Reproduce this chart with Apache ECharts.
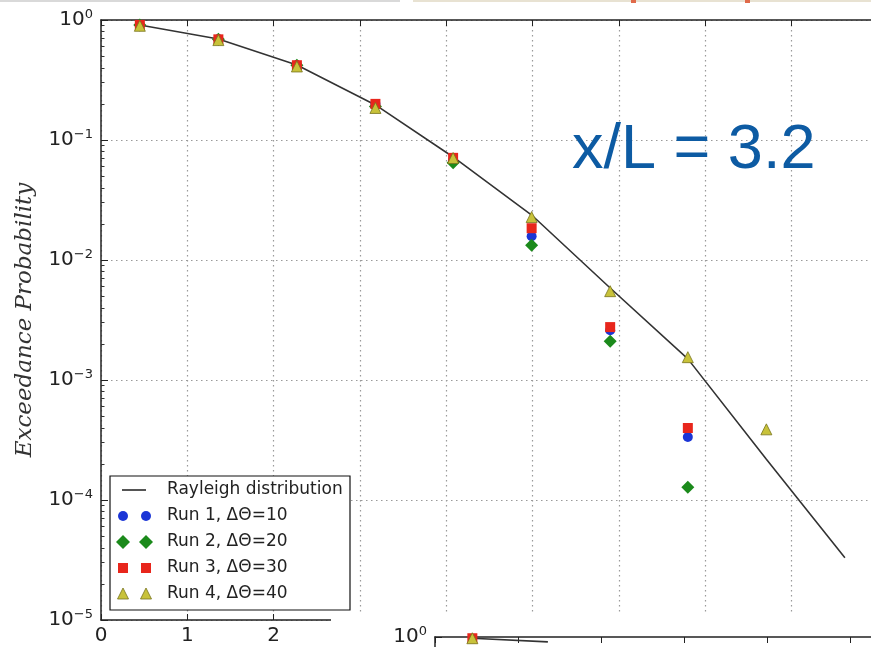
<!DOCTYPE html>
<html>
<head>
<meta charset="utf-8">
<script src="https://cdn.jsdelivr.net/npm/echarts@6/dist/echarts.min.js"></script>
<style>
html,body{margin:0;padding:0;overflow:hidden;background:#fff;width:871px;height:647px;}
#chart{width:1300px;height:647px;}
</style>
</head>
<body>
<div id="chart"></div>
<script>
// ---- data ----
const binCenters = [0.45, 1.36, 2.27, 3.18, 4.08, 4.99, 5.90, 6.80, 7.71];
const rayleighX = [0.45, 1.36, 2.27, 3.18, 4.08, 4.99, 5.90, 6.80, 7.71, 8.62];
const rayleighP = [0.909, 0.694, 0.422, 0.196, 0.0722, 0.0237, 0.00584, 0.00150, 0.000219, 0.000033];
const run1 = [0.91, 0.69, 0.42, 0.200, 0.068, 0.0158, 0.0026, 0.000335, null];
const run2 = [0.91, 0.69, 0.42, 0.190, 0.0645, 0.0133, 0.0021, 0.000128, null];
const run3 = [0.91, 0.69, 0.42, 0.200, 0.071, 0.0184, 0.00276, 0.000398, null];
const run4 = [0.895, 0.68, 0.41, 0.185, 0.0708, 0.0228, 0.0055, 0.00155, 0.000388];
const runNames = ['Run 1, \u0394\u0398=10', 'Run 2, \u0394\u0398=20', 'Run 3, \u0394\u0398=30', 'Run 4, \u0394\u0398=40'];
const curveName = 'Rayleigh distribution';
const xTicks = [0, 1, 2, 3, 4, 5, 6, 7, 8, 9, 10];
const yDecades = [-5, -4, -3, -2, -1, 0];
const annotation = 'x/L = 3.2';
const yTitle = 'Exceedance Probability';
// second (partially visible) panel below
const panel2X = [0.45, 1.36];
const panel2Curve = [0.91, 0.69];
const panel2Run = [0.91];

// minor log tick positions (2..9 x 10^d)
const minorTicks = [];
yDecades.slice(0, -1).forEach(d => { for (let k = 2; k <= 9; k++) minorTicks.push(k * Math.pow(10, d)); });

const colors = { run1: '#1b35d6', run2: '#1b8a1b', run3: '#e8261c', run4: '#c8c23a', curve: '#333333' };
const pairs = (xs, ys) => xs.map((x, i) => [x, ys[i]]).filter(p => p[1] != null);

const supLabel = v => '{b|10}{s|' + String(Math.round(Math.log10(v))).replace('-', '\u2212') + '}';
const labelRich = {
  b: { fontSize: 20, fontFamily: 'DejaVu Sans', color: '#222', lineHeight: 24 },
  s: { fontSize: 13, fontFamily: 'DejaVu Sans', color: '#222', verticalAlign: 'top', lineHeight: 14 }
};
const frame = { show: true, lineStyle: { color: '#222', width: 1.5 } };
const dotted = { show: true, lineStyle: { color: '#9a9a9a', type: [1.5, 3.5], width: 1.2 } };

const chart = echarts.init(document.getElementById('chart'), null, { renderer: 'canvas' });

// legend drawn as graphics
const legX = 110, legY = 476, rows = [490, 516, 542, 568, 594];
const legend = [
  { type: 'rect', z: 50, shape: { x: legX, y: legY, width: 240, height: 134 }, style: { fill: '#fff', stroke: '#111', lineWidth: 1.2 } },
  { type: 'line', z: 51, shape: { x1: 122, y1: rows[0], x2: 146, y2: rows[0] }, style: { stroke: '#555', lineWidth: 2 } }
];
[123, 146].forEach(cx => {
  legend.push({ type: 'circle', z: 51, shape: { cx: cx, cy: rows[1], r: 5 }, style: { fill: colors.run1 } });
  legend.push({ type: 'polygon', z: 51, shape: { points: [[cx, rows[2] - 7], [cx + 7, rows[2]], [cx, rows[2] + 7], [cx - 7, rows[2]]] }, style: { fill: colors.run2 } });
  legend.push({ type: 'rect', z: 51, shape: { x: cx - 5, y: rows[3] - 5, width: 10, height: 10 }, style: { fill: colors.run3 } });
  legend.push({ type: 'polygon', z: 51, shape: { points: [[cx, rows[4] - 6], [cx + 5.5, rows[4] + 5], [cx - 5.5, rows[4] + 5]] }, style: { fill: colors.run4, stroke: '#77731c', lineWidth: 0.8 } });
});
[curveName].concat(runNames).forEach((t, i) => {
  legend.push({ type: 'text', z: 52, style: { x: 167, y: rows[i], text: t, font: '17px "DejaVu Sans"', fill: '#222', verticalAlign: 'middle' } });
});

const option = {
  animation: false,
  backgroundColor: '#fff',
  grid: [
    { left: 101, top: 20, width: 863, height: 600, show: false },
    { left: 435, top: 637, width: 830, height: 600, show: false }
  ],
  xAxis: [
    { gridIndex: 0, type: 'value', position: 'bottom', min: xTicks[0], max: xTicks[xTicks.length - 1], interval: 1,
      axisLine: frame, axisTick: { show: true, inside: true, length: 6, lineStyle: { color: '#222' } },
      axisLabel: { fontSize: 20, fontFamily: 'DejaVu Sans', color: '#222', margin: 6 }, splitLine: dotted },
    { gridIndex: 0, type: 'value', position: 'top', min: xTicks[0], max: xTicks[xTicks.length - 1], interval: 1,
      axisLine: frame, axisTick: { show: true, inside: true, length: 6, lineStyle: { color: '#222' } },
      axisLabel: { show: false }, splitLine: { show: false } },
    { gridIndex: 1, type: 'value', position: 'top', min: xTicks[0], max: xTicks[xTicks.length - 1], interval: 1, z: 60,
      axisLine: frame, axisTick: { show: true, inside: true, length: 6, lineStyle: { color: '#222' } },
      axisLabel: { show: false }, splitLine: { show: false } }
  ],
  yAxis: [
    { gridIndex: 0, type: 'log', logBase: 10, min: Math.pow(10, yDecades[0]), max: Math.pow(10, yDecades[yDecades.length - 1]), position: 'left',
      axisLine: frame, axisTick: { show: true, inside: true, length: 7, lineStyle: { color: '#222' } },
      axisLabel: { formatter: supLabel, rich: labelRich, margin: 8 }, splitLine: dotted,
      name: yTitle, nameLocation: 'middle', nameRotate: 90, nameGap: 64,
      nameTextStyle: { fontFamily: 'DejaVu Serif', fontStyle: 'italic', fontSize: 23, color: '#333' } },
    { gridIndex: 0, type: 'log', logBase: 10, min: Math.pow(10, yDecades[0]), max: 1, position: 'left',
      axisLine: { show: false }, axisTick: { show: true, inside: true, length: 3.5, customValues: minorTicks, lineStyle: { color: '#333' } },
      axisLabel: { show: false }, splitLine: { show: false } },
    { gridIndex: 1, type: 'log', logBase: 10, min: Math.pow(10, yDecades[0]), max: 1, position: 'left', z: 60,
      axisLine: frame, axisTick: { show: true, inside: true, length: 7, lineStyle: { color: '#222' } },
      axisLabel: { formatter: supLabel, rich: labelRich, margin: 8 }, splitLine: { show: false } }
  ],
  series: [
    { name: curveName, type: 'line', xAxisIndex: 0, yAxisIndex: 0, data: pairs(rayleighX, rayleighP), showSymbol: false,
      lineStyle: { color: colors.curve, width: 1.6 }, z: 2 },
    { name: runNames[0], type: 'scatter', xAxisIndex: 0, yAxisIndex: 0, data: pairs(binCenters, run1), symbol: 'circle', symbolSize: 10,
      itemStyle: { color: colors.run1, opacity: 1 }, z: 3 },
    { name: runNames[1], type: 'scatter', xAxisIndex: 0, yAxisIndex: 0, data: pairs(binCenters, run2), symbol: 'diamond', symbolSize: 13,
      itemStyle: { color: colors.run2, opacity: 1 }, z: 4 },
    { name: runNames[2], type: 'scatter', xAxisIndex: 0, yAxisIndex: 0, data: pairs(binCenters, run3), symbol: 'rect', symbolSize: 10,
      itemStyle: { color: colors.run3, opacity: 1 }, z: 5 },
    { name: runNames[3], type: 'scatter', xAxisIndex: 0, yAxisIndex: 0, data: pairs(binCenters, run4), symbol: 'triangle', symbolSize: 11,
      itemStyle: { color: colors.run4, borderColor: '#77731c', borderWidth: 0.8, opacity: 1 }, z: 6 },
    { type: 'line', xAxisIndex: 2, yAxisIndex: 2, data: pairs(panel2X, panel2Curve), showSymbol: false,
      lineStyle: { color: colors.curve, width: 1.6 }, z: 61 },
    { type: 'scatter', xAxisIndex: 2, yAxisIndex: 2, data: pairs(panel2X, panel2Run), symbol: 'rect', symbolSize: 10,
      itemStyle: { color: colors.run3, opacity: 1 }, z: 62 },
    { type: 'scatter', xAxisIndex: 2, yAxisIndex: 2, data: pairs(panel2X, panel2Run), symbol: 'triangle', symbolSize: 11,
      itemStyle: { color: colors.run4, borderColor: '#77731c', borderWidth: 0.8, opacity: 1 }, z: 63 }
  ],
  graphic: legend.concat([
    // white cover where the lower panel overlaps
    { type: 'rect', z: 40, shape: { x: 331, y: 612, width: 1000, height: 40 }, style: { fill: '#fff' } },
    // faint remains of the panel above
    { type: 'rect', z: 40, shape: { x: 0, y: 0, width: 400, height: 2 }, style: { fill: '#d9d9d9' } },
    { type: 'rect', z: 40, shape: { x: 413, y: 0, width: 460, height: 2 }, style: { fill: '#e8e2d2' } },
    { type: 'rect', z: 41, shape: { x: 631, y: 0, width: 5, height: 3 }, style: { fill: '#e06a4a' } },
    { type: 'rect', z: 41, shape: { x: 745, y: 0, width: 5, height: 3 }, style: { fill: '#e06a4a' } },
    { type: 'text', z: 45, style: { x: 572, y: 182, text: annotation, font: '63px "Liberation Sans"', fill: '#0d5ba3', verticalAlign: 'bottom' } }
  ])
};
chart.setOption(option);
</script>
</body>
</html>
